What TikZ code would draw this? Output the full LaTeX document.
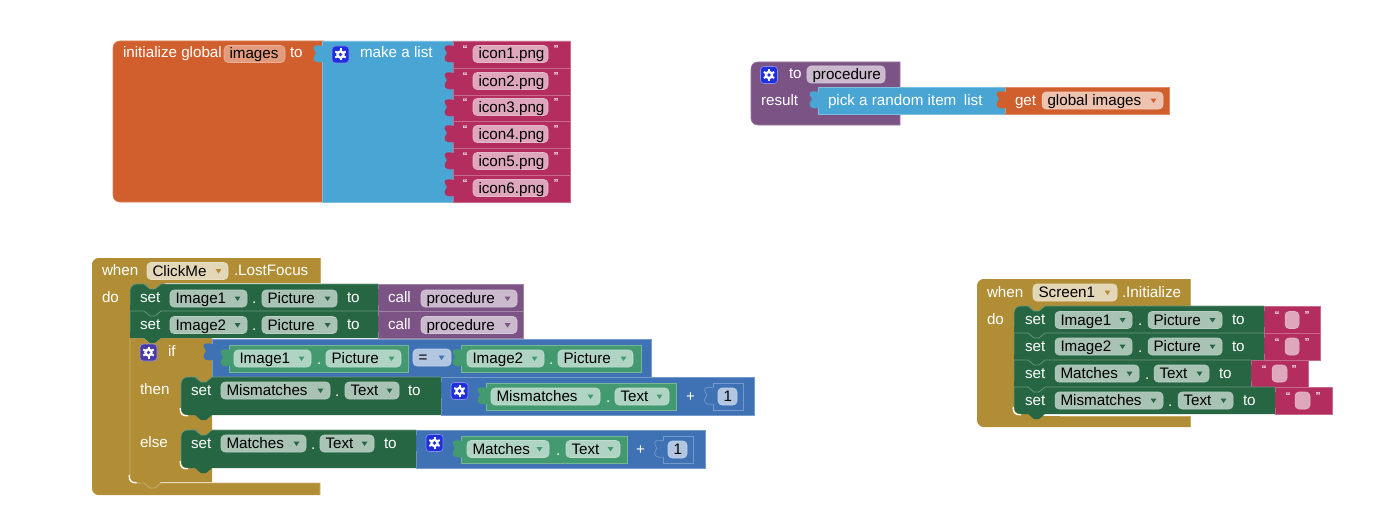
\documentclass[tikz,border=0pt]{standalone}
\usepackage{fontspec}
\setmainfont{Liberation Sans}
\definecolor{orng}{HTML}{D05F2D}
\definecolor{lblue}{HTML}{49A6D4}
\definecolor{pink}{HTML}{B32D5E}
\definecolor{gold}{HTML}{B18E35}
\definecolor{dgreen}{HTML}{266643}
\definecolor{mgreen}{HTML}{439970}
\definecolor{purp}{HTML}{7C5385}
\definecolor{mblue}{HTML}{3F71B5}
\definecolor{gearblue}{HTML}{1F2FDC}
\definecolor{gearpurp}{HTML}{4A3BA8}
\newcounter{nn}
\tikzset{
  txt/.style={inner sep=0pt,outer sep=0pt,anchor=base west,font=\fontsize{11.4pt}{13pt}\selectfont},
  qt/.style={inner sep=0pt,outer sep=0pt,anchor=base,text=white,font=\fontsize{7.5pt}{9pt}\selectfont\bfseries},
  fldbox/.style={rounded corners=3pt,line width=.4pt},
}
% white text
\newcommand\tw[3]{\stepcounter{nn}\node (n\arabic{nn}) [txt,text=white] at (#1,{#2+5}) {#3};}
% input field: colour, x1, x2, cy, text
\newcommand\fld[5]{\stepcounter{nn}%
  \draw[fldbox,fill=#1,draw=#1!80!white] (#2,{#4-8.5}) rectangle (#3,{#4+8.5});
  \node (n\arabic{nn}) [txt,text=black] at ({#2+5.5},{#4+5}) {#5};}
% dropdown field: colour, arrow colour, x1, x2, cy, text
\newcommand\dd[6]{\fld{#1}{#3}{#4}{#5}{#6}
  \fill[#2] ({#4-12.5},{#5-2}) -- ({#4-6.5},{#5-2}) -- ({#4-9.5},{#5+2.5}) -- cycle;}
% value block with left tab
\newcommand\val[5]{\fill[#1]
  (#2,#3) -- (#4,#3) -- (#4,#5) -- (#2,#5) -- (#2,{#3+21})
  .. controls ({#2-4},{#3+22}) and ({#2-8.5},{#3+21}) .. ({#2-8.5},{#3+17})
  .. controls ({#2-8.5},{#3+14}) and ({#2-6},{#3+14}) .. ({#2-6},{#3+12})
  .. controls ({#2-6},{#3+10}) and ({#2-8.5},{#3+10}) .. ({#2-8.5},{#3+7.5})
  .. controls ({#2-8.5},{#3+4}) and ({#2-4},{#3+3.5}) .. (#2,{#3+5}) -- cycle;
  \draw[#1!72!white,line width=.5pt] (#2,{#3+21}) -- (#2,#5) -- (#4,#5) -- (#4,#3) -- (#2,#3) -- (#2,{#3+5});}
% outline of a tab that sits on a block of its own colour
\newcommand\tabline[3]{\draw[#1!72!white,line width=.5pt] (#2,{#3+21})
  .. controls ({#2-4},{#3+22}) and ({#2-8.5},{#3+21}) .. ({#2-8.5},{#3+17})
  .. controls ({#2-8.5},{#3+14}) and ({#2-6},{#3+14}) .. ({#2-6},{#3+12})
  .. controls ({#2-6},{#3+10}) and ({#2-8.5},{#3+10}) .. ({#2-8.5},{#3+7.5})
  .. controls ({#2-8.5},{#3+4}) and ({#2-4},{#3+3.5}) .. (#2,{#3+5});}
% statement block: colour,x1,y1,x2,y2,style top-left,style bottom-left
\newcommand\stmt[7]{\fill[#1] (#2,{(#3+#5)/2}) [#6] -- (#2,#3) -- ({#2+11},#3) [sharp corners]
  -- ({#2+14},#3) -- ({#2+20},{#3+5}) -- ({#2+25},{#3+5}) -- ({#2+31},#3) -- (#4,#3) -- (#4,#5)
  -- ({#2+31},#5) -- ({#2+25},{#5+5}) -- ({#2+20},{#5+5}) -- ({#2+14},#5) -- ({#2+11},#5) [#7] -- (#2,#5) -- cycle;
  \draw[#1!68!white,line width=.5pt] (#2,{#5-6}) [#6] -- (#2,#3) -- ({#2+11},#3) [sharp corners]
  -- ({#2+14},#3) -- ({#2+20},{#3+5}) -- ({#2+25},{#3+5}) -- ({#2+31},#3) -- (#4,#3);}
% gear icon: colour, x, y centre
\newcommand\gear[3]{\draw[rounded corners=2.5pt,fill=#1,draw=#1!55!white,line width=.5pt] ({#2-8.5},{#3-8.5}) rectangle ({#2+8.5},{#3+8.5});
  \foreach \a in {0,60,120}{\draw[white,line width=1.5pt] ({#2+6*cos(\a+30)},{#3+6*sin(\a+30)}) -- ({#2-6*cos(\a+30)},{#3-6*sin(\a+30)});}
  \fill[white] (#2,#3) circle [radius=4.3];
  \fill[#1] (#2,#3) circle [radius=1.9];}
\newcommand\qq[3]{\stepcounter{nn}\node (n\arabic{nn}) [qt] at (#1,{#3-1.5}) {“};\stepcounter{nn}\node (n\arabic{nn}) [qt] at (#2,{#3-1.5}) {”};}
% white crescent at a rounded bottom-left corner
\newcommand\cres[2]{\draw[white,line width=1pt] ({#1-.8},{#2-7}) .. controls ({#1-.8},{#2-1}) and ({#1+1},{#2+.8}) .. ({#1+7},{#2+.8});}
\begin{document}
\begin{tikzpicture}[x=.75pt,y=-.75pt]
\useasboundingbox (0,0) rectangle (1380,510);

% ---- initialize global
\filldraw[fill=orng,draw=orng!80!white,line width=.4pt,rounded corners=5pt] (113,41) -- (330,41) -- (330,202) -- (113,202) -- cycle;
\val{lblue}{322}{41}{453}{202}
\foreach \ya/\yb in {41/68,68/95,95/121,121/148,148/175,175/202}{\val{pink}{453}{\ya}{570}{\yb}}
\tw{123}{53}{initialize global}
\fld{orng!62!white}{224}{285}{54}{images}
\tw{290}{53}{to}
\gear{gearblue}{340.5}{54.5}
\tw{360}{53}{make a list}
\qq{465}{556}{54}\fld{pink!42!white}{473}{548}{54}{icon1.png}
\qq{465}{556}{81}\fld{pink!42!white}{473}{548}{81}{icon2.png}
\qq{465}{556}{107}\fld{pink!42!white}{473}{548}{107}{icon3.png}
\qq{465}{556}{134}\fld{pink!42!white}{473}{548}{134}{icon4.png}
\qq{465}{556}{161}\fld{pink!42!white}{473}{548}{161}{icon5.png}
\qq{465}{556}{188}\fld{pink!42!white}{473}{548}{188}{icon6.png}

% ---- procedure
\filldraw[fill=purp,draw=purp!80!white,line width=.4pt] (900,125) [rounded corners=5pt] -- (751,125) -- (751,62) [sharp corners] -- (900,62) -- cycle;
\gear{gearblue}{769}{75}
\tw{789}{74}{to}
\fld{purp!40!white}{807}{885}{74.5}{procedure}
\tw{761}{100}{result}
\val{lblue}{818}{87}{1005}{114}
\val{orng}{1005}{87}{1169}{114}
\tw{828}{100}{pick a random item\hspace{.5em}list}
\tw{1015}{100}{get}
\dd{orng!38!white}{orng}{1042}{1163}{100.5}{global images}

% ---- ClickMe
\fill[gold] (320,283) -- (165,283) -- (165,292) -- (130,292) -- (130,483) -- (320,483) -- (320,495)
  [rounded corners=5pt] -- (92,495) -- (92,258) [sharp corners] -- (320,258) -- cycle;
\draw[gold!75!white,line width=.4pt] (320,258) -- (320,283);
\tw{102}{270}{when}
\dd{gold!35!white}{gold}{147}{228}{271}{ClickMe}
\tw{234}{270}{.LostFocus}
\tw{102}{297}{do}
% if block
\fill[gold] (130,470) rectangle (150,484);
\stmt{gold}{130}{338}{212}{482}{sharp corners}{rounded corners=5pt}
\cres{130}{482}
\draw[gold!70!white,line width=.6pt] (136,483) -- (144,483) -- (150,488) -- (155,488) -- (161,483) -- (320,483) -- (320,495);
\val{purp}{378}{284}{523}{311}
\val{purp}{378}{311}{523}{338}
\stmt{dgreen}{130}{284}{378}{311}{rounded corners=5pt}{sharp corners}
\stmt{dgreen}{130}{311}{378}{338}{sharp corners}{sharp corners}
\tw{140}{297}{set}
\dd{dgreen!40!white}{dgreen}{170}{247}{298.5}{Image1}
\tw{252}{298}{.}
\dd{dgreen!40!white}{dgreen}{262}{337}{298.5}{Picture}
\tw{347}{297}{to}
\tw{388}{297}{call}
\dd{purp!40!white}{purp}{421}{517}{298.5}{procedure}
\tw{140}{324}{set}
\dd{dgreen!40!white}{dgreen}{170}{247}{325}{Image2}
\tw{252}{325}{.}
\dd{dgreen!40!white}{dgreen}{262}{337}{325}{Picture}
\tw{347}{324}{to}
\tw{388}{324}{call}
\dd{purp!40!white}{purp}{421}{517}{325}{procedure}
\gear{gearpurp}{148.5}{352.5}
\tw{168}{351}{if}
\tw{140}{389}{then}
\tw{140}{442}{else}
\val{mblue}{212}{339}{651}{377}
\val{mgreen}{229}{345}{408}{372}
\dd{mgreen!42!white}{mgreen}{234}{311}{358.5}{Image1}
\tw{317}{359}{.}
\dd{mgreen!42!white}{mgreen}{326}{401}{358.5}{Picture}
\dd{mblue!40!white}{mblue}{413}{451}{357.5}{=}
\val{mgreen}{461}{345}{641}{372}
\dd{mgreen!42!white}{mgreen}{467}{544}{358.5}{Image2}
\tw{549}{359}{.}
\dd{mgreen!42!white}{mgreen}{558}{633}{358.5}{Picture}
% then
\val{mblue}{441}{377}{754}{415}
\stmt{dgreen}{181}{377}{441}{415}{rounded corners=5pt}{rounded corners=5pt}
\cres{181}{415}
\tw{191}{390}{set}
\dd{dgreen!40!white}{dgreen}{221}{330}{390.5}{Mismatches}
\tw{335}{391}{.}
\dd{dgreen!40!white}{dgreen}{345}{399}{390.5}{Text}
\tw{408}{390}{to}
\gear{gearblue}{459.5}{391}
\val{mgreen}{486}{383}{676}{410}
\dd{mgreen!42!white}{mgreen}{491}{600}{396.5}{Mismatches}
\tw{606}{397}{.}
\dd{mgreen!42!white}{mgreen}{615}{669}{396.5}{Text}
\tw{686}{396}{+}
\val{mblue}{713}{383}{743}{410}
\tabline{mblue}{713}{383}
\fld{mblue!40!white}{718}{737}{396.5}{1}
% else
\val{mblue}{416}{430}{705}{468}
\stmt{dgreen}{181}{430}{416}{468}{rounded corners=5pt}{rounded corners=5pt}
\cres{181}{468}
\tw{191}{443}{set}
\dd{dgreen!40!white}{dgreen}{221}{306}{443.5}{Matches}
\tw{311}{444}{.}
\dd{dgreen!40!white}{dgreen}{320}{374}{443.5}{Text}
\tw{384}{443}{to}
\gear{gearblue}{434.5}{443}
\val{mgreen}{461}{436}{627}{463}
\dd{mgreen!42!white}{mgreen}{467}{549}{449}{Matches}
\tw{556}{450}{.}
\dd{mgreen!42!white}{mgreen}{566}{620}{449}{Text}
\tw{636}{449}{+}
\val{mblue}{663}{436}{693}{463}
\tabline{mblue}{663}{436}
\fld{mblue!40!white}{668}{687}{449.5}{1}

% ---- Screen1
\fill[gold] (1190,306) -- (1049,306) -- (1049,315) -- (1014,315) -- (1014,416) -- (1190,416) -- (1190,427)
  [rounded corners=5pt] -- (977,427) -- (977,279) [sharp corners] -- (1190,279) -- cycle;
\fill[gold] (1014,404) rectangle (1034,417);
\draw[gold!75!white,line width=.4pt] (1190,427) -- (1190,416) -- (1060,416) (1190,279) -- (1190,306);
\tw{987}{292}{when}
\dd{gold!35!white}{gold}{1033}{1117}{292.5}{Screen1}
\tw{1122}{292}{.Initialize}
\tw{987}{319}{do}
\val{pink}{1264}{306}{1320}{333}
\val{pink}{1264}{333}{1320}{360}
\val{pink}{1251}{360}{1308}{387}
\val{pink}{1275}{387}{1332}{414}
\stmt{dgreen}{1014}{306}{1264}{333}{rounded corners=5pt}{sharp corners}
\stmt{dgreen}{1014}{333}{1264}{360}{sharp corners}{sharp corners}
\stmt{dgreen}{1014}{360}{1251}{387}{sharp corners}{sharp corners}
\stmt{dgreen}{1014}{387}{1275}{414}{sharp corners}{rounded corners=5pt}
\cres{1014}{414}
\tw{1025}{319}{set}
\dd{dgreen!40!white}{dgreen}{1055}{1132}{320}{Image1}
\tw{1138}{320}{.}
\dd{dgreen!40!white}{dgreen}{1148}{1222}{320}{Picture}
\tw{1232}{319}{to}
\qq{1277}{1307}{320}\fld{pink!42!white}{1285}{1299}{320}{}
\tw{1025}{346}{set}
\dd{dgreen!40!white}{dgreen}{1055}{1132}{346.5}{Image2}
\tw{1138}{347}{.}
\dd{dgreen!40!white}{dgreen}{1148}{1222}{346.5}{Picture}
\tw{1232}{346}{to}
\qq{1277}{1307}{346.5}\fld{pink!42!white}{1285}{1299}{346.5}{}
\tw{1025}{373}{set}
\dd{dgreen!40!white}{dgreen}{1055}{1139}{373.5}{Matches}
\tw{1145}{374}{.}
\dd{dgreen!40!white}{dgreen}{1154}{1209}{373.5}{Text}
\tw{1219}{373}{to}
\qq{1264}{1294}{373.5}\fld{pink!42!white}{1272}{1287}{373.5}{}
\tw{1025}{400}{set}
\dd{dgreen!40!white}{dgreen}{1055}{1163}{400.5}{Mismatches}
\tw{1168}{401}{.}
\dd{dgreen!40!white}{dgreen}{1178}{1233}{400.5}{Text}
\tw{1243}{400}{to}
\qq{1288}{1318}{400.5}\fld{pink!42!white}{1295}{1310}{400.5}{}
\end{tikzpicture}
\end{document}
